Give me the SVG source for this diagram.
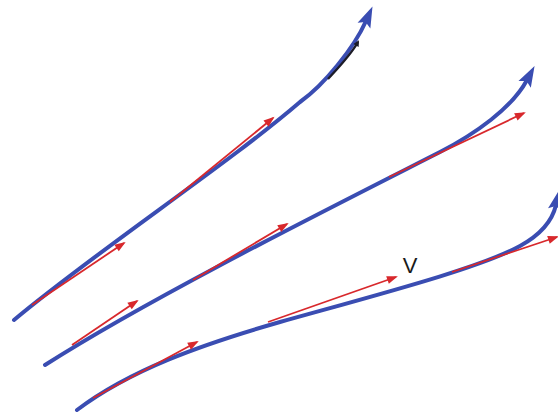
<svg xmlns="http://www.w3.org/2000/svg" width="558" height="419" viewBox="0 0 558 419">
<style>
.curve{fill:none;stroke:#3a4db2;stroke-width:4;stroke-linecap:round;marker-end:url(#bh)}
.vec{fill:none;stroke:#d8282c;stroke-width:1.8;marker-end:url(#rh)}
.blk{fill:none;stroke:#1c1c28;stroke-width:2.4;marker-end:url(#kh)}
.lbl{font-family:"Liberation Sans",Arial,sans-serif;font-size:22px;fill:#1a1a1a}
</style>
<defs>
<marker id="bh" markerUnits="userSpaceOnUse" viewBox="-8 -9 28 18" markerWidth="28" markerHeight="18" refX="0" refY="0" orient="auto">
<path d="M-5,-7 L16,0 L-5,7 L-1,0 Z" fill="#3a4db2"/>
</marker>
<marker id="rh" markerUnits="userSpaceOnUse" viewBox="-3 -6 14 12" markerWidth="14" markerHeight="12" refX="8" refY="0" orient="auto">
<path d="M-1,-4 L10,0 L-1,4 Z" fill="#d8282c"/>
</marker>
<marker id="kh" markerUnits="userSpaceOnUse" viewBox="-3 -4 10 8" markerWidth="10" markerHeight="8" refX="3" refY="0" orient="auto">
<path d="M-1,-3 L5,0 L-1,3 Z" fill="#1c1c28"/>
</marker>
</defs>
<rect width="558" height="419" fill="#ffffff"/>
<g id="curve1">
<path class="curve" d="M14,320 C95,252 228,164 300,102 C324,85 354,48 366,21"/>
<path class="blk" d="M328,79 C338,68 350,56 358,42"/>
<line class="vec" x1="32" y1="305" x2="124" y2="243"/>
<line class="vec" x1="170" y1="202" x2="273" y2="118"/>
</g>
<g id="curve2">
<path class="curve" d="M45,365 C150,298 330,208 440,152 C475,134 512,108 527,80"/>
<line class="vec" x1="72" y1="345" x2="137" y2="301"/>
<line class="vec" x1="193" y1="280" x2="287" y2="224"/>
<line class="vec" x1="389" y1="177" x2="524" y2="113"/>
</g>
<g id="curve3">
<path class="curve" d="M77,410 C130,370 200,345 280,322 C380,294 480,268 520,246 C540,235 552,222 556,205"/>
<line class="vec" x1="93" y1="398" x2="197" y2="342"/>
<line class="vec" x1="268" y1="322" x2="396" y2="277"/>
<line class="vec" x1="452" y1="272" x2="557" y2="237"/>
<text class="lbl" x="410" y="273" text-anchor="middle">V</text>
</g>
</svg>
